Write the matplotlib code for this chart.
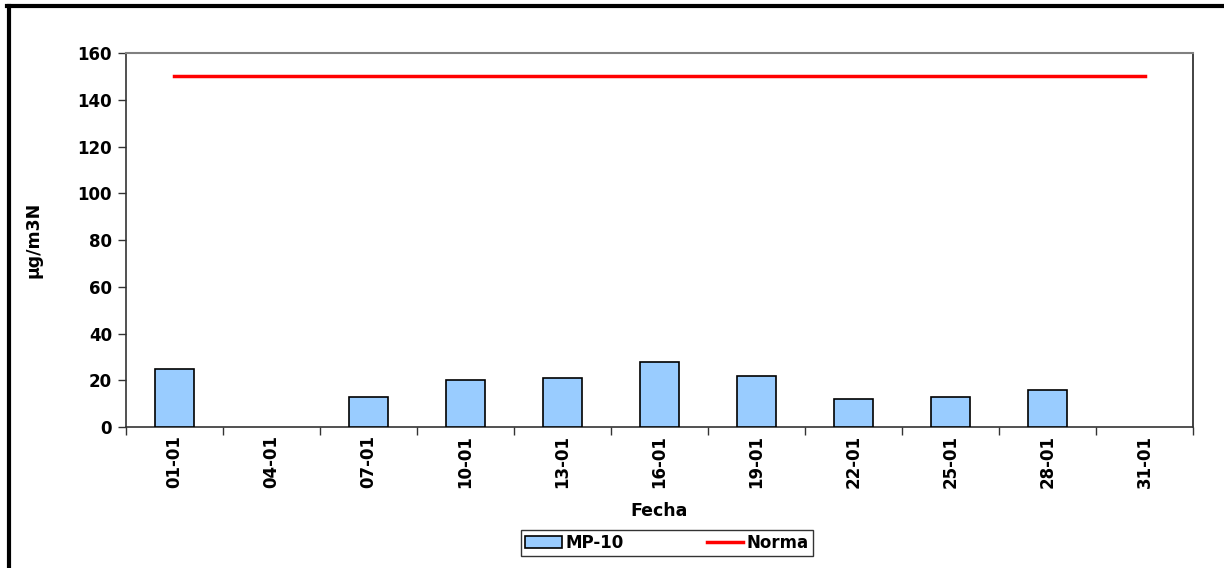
import matplotlib
matplotlib.use("Agg")
import matplotlib.pyplot as plt
from matplotlib.lines import Line2D
import numpy as np

# Daily MP-10 values (every third day), None = no data
FECHAS = ["01-01", "04-01", "07-01", "10-01", "13-01", "16-01",
          "19-01", "22-01", "25-01", "28-01", "31-01"]
MP10 = [25, None, 13, 20, 21, 28, 22, 12, 13, 16, None]
NORMA = [150] * len(FECHAS)
Y_TICKS = [0, 20, 40, 60, 80, 100, 120, 140, 160]

plt.rcParams["font.family"] = ["DejaVu Sans"]
plt.rcParams["font.weight"] = "bold"

fig = plt.figure(figsize=(12.24, 5.68), dpi=100)
ax = fig.add_axes([0.1029, 0.2482, 0.8718, 0.6585])

x = np.arange(len(FECHAS))
bar_x = [xi for xi, v in zip(x, MP10) if v is not None]
bar_v = [v for v in MP10 if v is not None]
bars = ax.bar(bar_x, bar_v, width=0.4, color="#99CCFF", edgecolor="black",
              linewidth=1.2, label="MP-10", zorder=3)
line, = ax.plot(x, NORMA, color="#FF0000", linewidth=2.5, label="Norma", zorder=4)

ax.set_xlim(-0.5, len(FECHAS) - 0.5)
ax.set_ylim(0, 160)
ax.set_yticks(Y_TICKS)
ax.set_yticklabels([str(t) for t in Y_TICKS], fontsize=12, fontweight="bold")
ax.set_xticks(x)
ax.set_xticklabels(FECHAS, rotation=90, fontsize=12, fontweight="bold")
ax.tick_params(axis="x", length=0, pad=6)
ax.set_xticks(np.arange(len(FECHAS) + 1) - 0.5, minor=True)
ax.tick_params(axis="x", which="minor", length=6, width=1, color="#333333")
ax.tick_params(axis="y", length=6, width=1, color="#333333", pad=4)

ax.spines["left"].set_color("#333333")
ax.spines["bottom"].set_color("#333333")
ax.spines["left"].set_linewidth(1.2)
ax.spines["bottom"].set_linewidth(1.2)
ax.spines["top"].set_color("#808080")
ax.spines["top"].set_linewidth(1.5)
ax.spines["right"].set_color("#222222")
ax.spines["right"].set_linewidth(1.2)

ax.set_xlabel("Fecha", fontsize=12.5, fontweight="bold", labelpad=10)
ax.set_ylabel("µg/m3N", fontsize=12.5, fontweight="bold", labelpad=25)

leg = ax.legend(handles=[bars, line], labels=["MP-10", "Norma"],
                loc="upper center", bbox_to_anchor=(0.507, -0.275), ncol=2,
                frameon=True, fancybox=False, fontsize=12, handlelength=2.2,
                columnspacing=5.0, borderpad=0.25, handletextpad=0.2,
                borderaxespad=0)
leg.get_frame().set_edgecolor("black")
leg.get_frame().set_linewidth(1.0)
for t in leg.get_texts():
    t.set_fontweight("bold")

# outer chart border (top and left visible)
fig.add_artist(Line2D([0.006, 1.0], [0.9895, 0.9895], color="black",
                      linewidth=3, transform=fig.transFigure))
fig.add_artist(Line2D([0.007, 0.007], [0.0, 0.99], color="black",
                      linewidth=3, transform=fig.transFigure))

fig.savefig("out.png", dpi=100)
